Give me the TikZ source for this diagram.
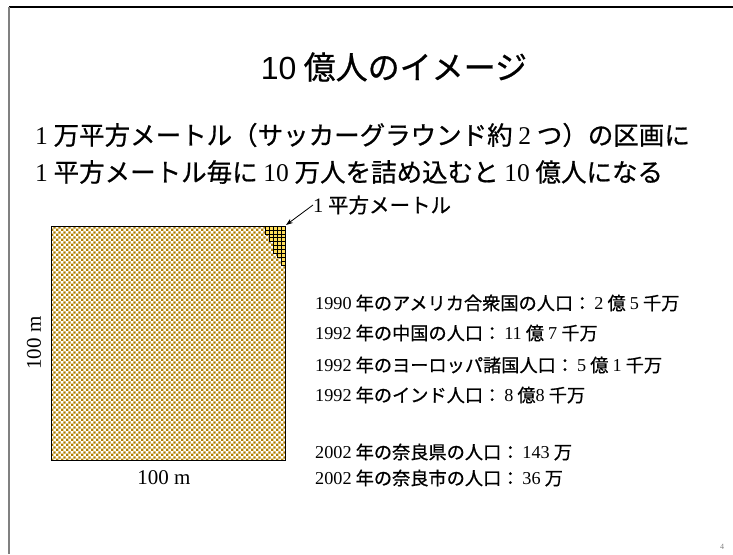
\documentclass[tikz,border=0pt]{standalone}
\usepackage{fontspec}
\setmainfont{Noto Sans CJK JP}[FakeBold=0.7]
\newfontfamily\tcfont{Noto Sans CJK TC}[FakeBold=0.7]
\newfontfamily\tms{Liberation Serif}
\newfontfamily\ars{Liberation Sans}
\newcommand\tn[1]{{\tms #1}}
\newcommand\colonc{{\tcfont ：}\kern3pt}
\usetikzlibrary{patterns,patterns.meta,arrows.meta}
\definecolor{chk}{RGB}{178,128,0}
\definecolor{cellyel}{RGB}{255,222,90}
\tikzdeclarepattern{
  name=finechecker,
  type=uncolored,
  bounding box={(0pt,0pt) and (5.2pt,5.2pt)},
  tile size={(5.2pt,5.2pt)},
  code={
    \fill (0pt,0pt) rectangle (2.6pt,2.6pt);
    \fill (2.6pt,2.6pt) rectangle (5.2pt,5.2pt);
  }
}
\begin{document}
\begin{tikzpicture}[x=1pt,y=-1pt,
  titletext/.style={font=\fontsize{32}{36}\selectfont, inner sep=0pt},
  bigtext/.style={font=\fontsize{25.5}{30}\selectfont, anchor=west, inner sep=0pt},
  listtext/.style={font=\fontsize{18.2}{21}\selectfont, anchor=west, inner sep=0pt},
  dimtext/.style={font=\tms\fontsize{21}{24}\selectfont, inner sep=0pt},
  cell/.style={fill=cellyel, draw=black, line width=0.6pt}]
\useasboundingbox (0,0) rectangle (733,554);
% frame
\draw[black, line width=1.3pt] (9,7) -- (733,7);
\draw[gray, line width=1.8pt] (9,7) -- (9,554);
% title
\node[titletext] (title) at (394,67) {{\ars 10} 億人のイメージ};
\node[bigtext] (l1) at (35,135) {\tn{1} 万平方メートル（サッカーグラウンド約 \tn{2} つ）の区画に};
\node[bigtext] (l2) at (35,172) {\tn{1} 平方メートル毎に \tn{10} 万人を詰め込むと \tn{10} 億人になる};
% square
\fill[white] (51,226) rectangle (285,460);
\fill[pattern=finechecker, pattern color=chk] (51,226) rectangle (285,460);
\foreach \r/\w in {0/5,1/5,2/4,3/4,4/3,5/3,6/3,7/2,8/1,9/1}{
  \foreach \c in {1,...,\w}{
    \draw[cell] ({285-\c*3.9},{226+\r*3.9}) rectangle ({285-(\c-1)*3.9},{226+(\r+1)*3.9});
  }
}
\draw[black, line width=1pt] (51,226) rectangle (285,460);
\coordinate (corner) at (286,225);
\node[listtext, font=\fontsize{20.5}{22}\selectfont] (sq1) at (313,205) {\tn{1} 平方メートル};
\draw[-{Stealth[length=7pt,width=5pt]}, line width=0.8pt] (sq1.west) -- (corner);
% dimensions
\node[dimtext] (dimb) at (164,478) {100 m};
\node[dimtext, rotate=90] (diml) at (34,343) {100 m};
% list
\node[listtext] (p1) at (315,303) {\tn{1990} 年のアメリカ合衆国の人口\colonc\tn{2} 億 \tn{5} 千万};
\node[listtext] (p2) at (315,333) {\tn{1992} 年の中国の人口\colonc\tn{11} 億 \tn{7} 千万};
\node[listtext] (p3) at (315,365) {\tn{1992} 年のヨーロッパ諸国人口\colonc\tn{5} 億 \tn{1} 千万};
\node[listtext] (p4) at (315,395) {\tn{1992} 年のインド人口\colonc\tn{8} 億\tn{8} 千万};
\node[listtext] (p5) at (315,452) {\tn{2002} 年の奈良県の人口\colonc\tn{143} 万};
\node[listtext] (p6) at (315,478) {\tn{2002} 年の奈良市の人口\colonc\tn{36} 万};
\node[font=\tms\fontsize{8}{9}\selectfont, text=gray, inner sep=0pt] (pg) at (722,547) {4};
\end{tikzpicture}
\end{document}
